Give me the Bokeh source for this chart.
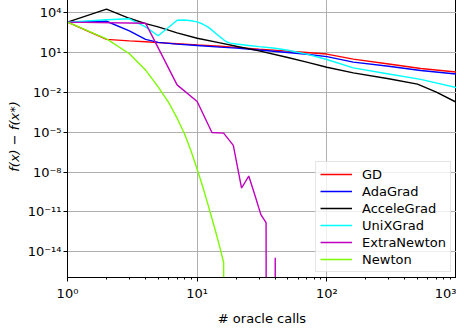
import numpy as np
from bokeh.plotting import figure
from bokeh.models import Range1d, FixedTicker, CustomJSTickFormatter, Legend, LegendItem
from bokeh.embed import file_html
from bokeh.resources import INLINE

# ---------------- data ----------------
gd_x = [1, 2, 3, 4, 5, 7, 10, 15, 20, 30, 50, 70, 100, 160, 300, 530, 1000]
gd_y = [1.8e3, 91, 71, 60, 52, 43, 35, 28, 23, 17, 12, 9.5, 7.2, 3.0, 1.3, 0.59, 0.32]

ada_x = [1, 2, 3, 4, 5, 7, 10, 15, 20, 30, 50, 70, 100, 160, 300, 530, 1000]
ada_y = [1.8e3, 2.1e3, 4.0e2, 91, 54, 40, 32, 24, 20, 14.5, 9.5, 6.9, 4.6, 1.8, 0.87, 0.42, 0.23]

acc_x = [1, 2, 3, 4, 5, 7, 10, 15, 20, 30, 50, 70, 100, 160, 300, 500, 700, 1000]
acc_y = [1.8e3, 1.7e4, 3.5e3, 1.4e3, 7.9e2, 2.8e2, 1.1e2, 50, 28, 12.6, 4.0, 1.8, 0.74,
         0.28, 0.1, 0.04, 0.01, 1.7e-3]

unix_x = [1, 2, 3, 4, 5, 6, 7, 8, 9, 10, 11, 12, 13, 14, 15, 16, 17, 18, 20, 25, 30, 40,
          50, 70, 100, 160, 300, 530, 1000]
unix_y = [1.8e3, 2.7e3, 3.2e3, 7.9e2, 1.7e2, 7.1e2, 2.5e3, 2.6e3, 2.3e3, 1.9e3, 1.3e3,
          8.3e2, 4.5e2, 2.4e2, 1.4e2, 85, 58, 48, 41, 32, 26, 19.5, 14, 7.1, 2.8, 0.66,
          0.23, 0.091, 0.022]

extra_x = [1, 4, 7, 10, 13, 16, 19, 22, 25, 28, 31, 34, 37, 40, 43]
extra_y = [1.8e3, 1.5e3, 3.5e-2, 2.0e-3, 9.3e-6, 8.3e-6, 1.0e-6, 6.3e-10, 5.0e-9,
           1.6e-10, 6.3e-12, 1.6e-12, 0.0, 3.6e-15, 0.0]

newton_x = list(range(1, 18))
newton_y = [1.8e3, 1.0e2, 7.6, 0.45, 2.5e-2, 1.8e-3, 1.1e-4, 7.1e-6, 3.5e-7, 1.6e-8,
            8.9e-10, 5.0e-11, 3.2e-12, 2.5e-13, 2.0e-14, 1.6e-15, 0.0]

names = ["GD", "AdaGrad", "AcceleGrad", "UniXGrad", "ExtraNewton", "Newton"]
colors = ["#ff0000", "#0000ff", "#000000", "#00ffff", "#bf00bf", "#7cfc00"]

x_tick_exps = [0, 1, 2, 3]
y_tick_exps = [-14, -11, -8, -5, -2, 1, 4]

FONT = "DejaVu Sans"

# ---------------- figure ----------------
p = figure(width=453, height=333, x_axis_type="log", y_axis_type="log",
           x_range=Range1d(1, 1000), y_range=Range1d(1.2e-16, 1.8e5),
           output_backend="svg", toolbar_location=None,
           min_border_left=10, min_border_right=0, min_border_top=0, min_border_bottom=10,
           margin=(-5, -9, -16, 3))

series = [(gd_x, gd_y), (ada_x, ada_y), (acc_x, acc_y), (unix_x, unix_y),
          (extra_x, extra_y), (newton_x, newton_y)]
items = []
for (xs, ys), name, col in zip(series, names, colors):
    ys = np.asarray(ys, dtype=float)
    ys = np.where(ys > 0, ys, 1e-300)  # like matplotlib's clipping of non-positive values
    r = p.line(xs, ys, line_color=col, line_width=1.4)
    items.append(LegendItem(label=name, renderers=[r]))

legend = Legend(items=items, location="bottom_right")
legend.label_text_font = FONT
legend.label_text_font_size = "13px"
legend.label_text_color = "#000000"
legend.glyph_width = 32
legend.glyph_height = 16
legend.label_height = 16
legend.label_standoff = 10
legend.spacing = 1
legend.padding = 4
legend.margin = 5
legend.border_line_color = "#cccccc"
legend.border_line_width = 1
legend.background_fill_color = "white"
legend.background_fill_alpha = 0.8
p.add_layout(legend, "center")

# axes
sup_fmt = CustomJSTickFormatter(code="""
const sup = {"0":"\u2070","1":"\u00b9","2":"\u00b2","3":"\u00b3","4":"\u2074",
             "5":"\u2075","6":"\u2076","7":"\u2077","8":"\u2078","9":"\u2079","-":"\u207b"};
const e = Math.round(Math.log10(tick));
return "10" + String(e).split("").map(c => sup[c]).join("");
""")
p.xaxis.ticker = FixedTicker(ticks=[10.0 ** e for e in x_tick_exps],
                             minor_ticks=[m * 10.0 ** d for d in x_tick_exps[:-1] for m in range(2, 10)])
p.yaxis.ticker = FixedTicker(ticks=[10.0 ** e for e in y_tick_exps])
p.xaxis.formatter = sup_fmt
p.yaxis.formatter = sup_fmt

for ax in (p.xaxis, p.yaxis):
    ax.major_label_text_font = FONT
    ax.major_label_text_font_size = "13px"
    ax.major_label_text_color = "#000000"
    ax.axis_label_text_font = FONT
    ax.axis_label_text_font_size = "13px"
    ax.axis_label_text_color = "#000000"
    ax.axis_line_color = "#000000"
    ax.axis_line_width = 1
    ax.major_tick_line_color = "#000000"
    ax.minor_tick_line_color = "#000000"
    ax.major_tick_out = 4
    ax.major_tick_in = 0
    ax.minor_tick_out = 2
    ax.minor_tick_in = 0

p.yaxis.major_label_standoff = 2
p.yaxis.axis_label_standoff = 3
p.xaxis.major_label_standoff = 4
p.xaxis.axis_label_standoff = 7

p.xaxis.axis_label = "# oracle calls"
p.xaxis.axis_label_text_font_style = "normal"
p.yaxis.axis_label = "f(x) \u2212 f(x*)"
p.yaxis.axis_label_text_font_style = "italic"

p.xgrid.grid_line_color = "#b0b0b0"
p.ygrid.grid_line_color = "#b0b0b0"
p.xgrid.grid_line_width = 1
p.ygrid.grid_line_width = 1

p.outline_line_color = "#000000"
p.outline_line_width = 1
p.outline_line_alpha = 1
p.background_fill_color = "white"
p.border_fill_color = "white"

open("out.html", "w").write(file_html(p, INLINE))
